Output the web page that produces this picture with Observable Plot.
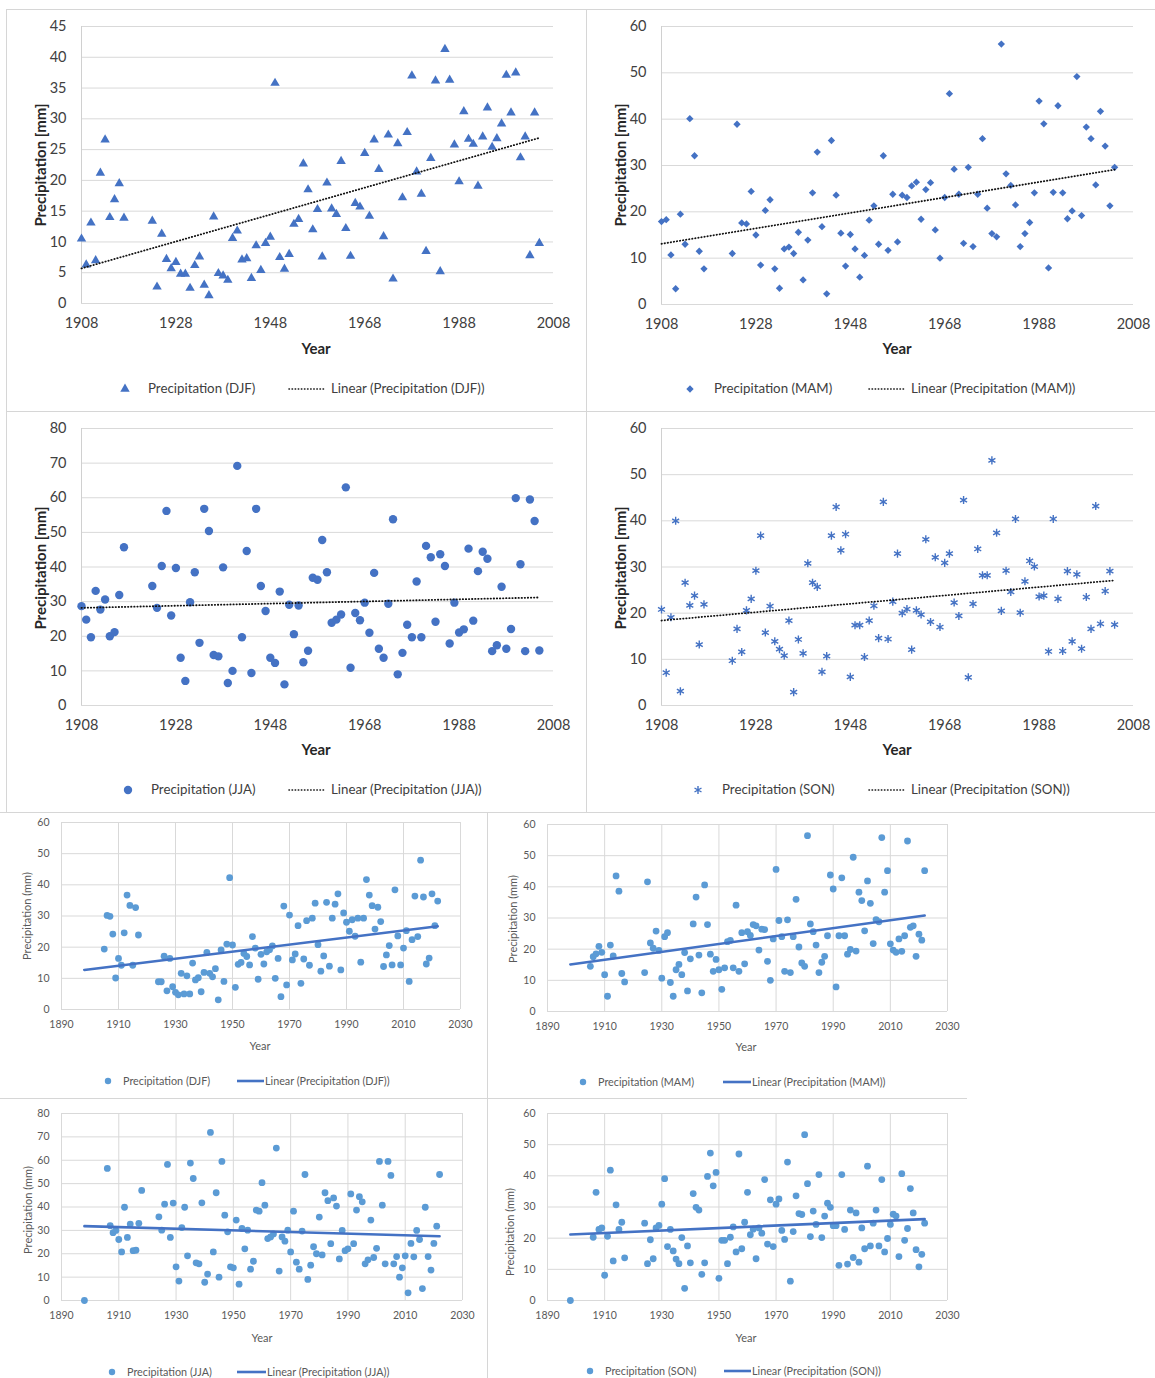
<!DOCTYPE html>
<html><head><meta charset="utf-8">
<script src="https://cdn.jsdelivr.net/npm/d3@7"></script>
<script src="https://cdn.jsdelivr.net/npm/@observablehq/plot@0.6"></script>
<style>
body{margin:0;background:#fff;}
#root{position:relative;width:1155px;height:1378px;overflow:hidden;font-family:Lato,'Open Sans',sans-serif;background:#fff;}
.t{position:absolute;white-space:nowrap;line-height:1;}
.hl{position:absolute;height:1px;background:#d6d6d6;}
.vl{position:absolute;width:1px;background:#d6d6d6;}
</style></head><body><div id="root"></div>
<script>
// ---------- tick labels ----------
const ticksTopX = [1908, 1928, 1948, 1968, 1988, 2008];
const ticksBotX = [1890, 1910, 1930, 1950, 1970, 1990, 2010, 2030];
const ticks45 = [0, 5, 10, 15, 20, 25, 30, 35, 40, 45];
const ticks60 = [0, 10, 20, 30, 40, 50, 60];
const ticks80 = [0, 10, 20, 30, 40, 50, 60, 70, 80];

// ---------- series (year, precipitation mm) ----------
const djfTop = [[1908,10.5],[1909,6.3],[1910,13.1],[1911,7.0],[1912,21.2],[1913,26.6],[1914,14.0],[1915,16.9],[1916,19.5],[1917,13.9],
[1923,13.4],[1924,2.7],[1925,11.3],[1926,7.2],[1927,5.7],[1928,6.7],[1929,4.8],[1930,4.8],[1931,2.5],[1932,6.2],
[1933,7.6],[1934,3.0],[1935,1.3],[1936,14.1],[1937,4.9],[1938,4.5],[1939,3.8],[1940,10.6],[1941,11.8],[1942,7.1],
[1943,7.3],[1944,4.1],[1945,9.4],[1946,5.4],[1947,9.8],[1948,10.8],[1949,35.8],[1950,7.5],[1951,5.6],[1952,8.0],
[1953,12.9],[1954,13.7],[1955,22.7],[1956,18.5],[1957,12.0],[1958,15.3],[1959,7.6],[1960,19.6],[1961,15.4],[1962,14.5],
[1963,23.1],[1964,12.2],[1965,7.7],[1966,16.3],[1967,15.7],[1968,24.4],[1969,14.2],[1970,26.6],[1971,21.8],[1972,10.9],
[1973,27.4],[1974,4.0],[1975,26.0],[1976,17.2],[1977,27.8],[1978,37.0],[1979,21.4],[1980,17.8],[1981,8.5],[1982,23.6],
[1983,36.2],[1984,5.2],[1985,41.3],[1986,36.3],[1987,25.8],[1988,19.8],[1989,31.2],[1990,26.7],[1991,25.9],[1992,19.1],
[1993,27.1],[1994,31.8],[1995,25.4],[1996,26.8],[1997,29.2],[1998,37.1],[1999,31.0],[2000,37.5],[2001,23.7],[2002,27.1],
[2003,7.8],[2004,31.0],[2005,9.8]];

const mamTop = [[1908,17.9],[1909,18.3],[1910,10.7],[1911,3.4],[1912,19.5],[1913,13.0],[1914,40.1],[1915,32.1],[1916,11.5],[1917,7.7],
[1923,11.0],[1924,38.9],[1925,17.6],[1926,17.4],[1927,24.4],[1928,15.0],[1929,8.5],[1930,20.3],[1931,22.6],[1932,7.7],
[1933,3.5],[1934,12.0],[1935,12.4],[1936,11.0],[1937,15.6],[1938,5.3],[1939,13.9],[1940,24.1],[1941,32.9],[1942,16.8],
[1943,2.3],[1944,35.4],[1945,23.6],[1946,15.4],[1947,8.3],[1948,15.1],[1949,12.0],[1950,5.9],[1951,10.6],[1952,18.2],
[1953,21.3],[1954,13.0],[1955,32.1],[1956,11.7],[1957,23.8],[1958,13.5],[1959,23.6],[1960,23.1],[1961,25.6],[1962,26.4],
[1963,18.4],[1964,24.8],[1965,26.3],[1966,16.1],[1967,10.0],[1968,23.1],[1969,45.5],[1970,29.2],[1971,23.8],[1972,13.2],
[1973,29.6],[1974,12.5],[1975,23.8],[1976,35.8],[1977,20.8],[1978,15.3],[1979,14.6],[1980,56.2],[1981,28.2],[1982,25.7],
[1983,21.5],[1984,12.5],[1985,15.3],[1986,17.7],[1987,24.1],[1988,43.9],[1989,39.0],[1990,7.9],[1991,24.2],[1992,42.9],
[1993,24.1],[1994,18.5],[1995,20.2],[1996,49.2],[1997,19.2],[1998,38.3],[1999,35.8],[2000,25.8],[2001,41.7],[2002,34.2],
[2003,21.3],[2004,29.6]];

const jjaTop = [[1908,28.7],[1909,24.8],[1910,19.7],[1911,33.1],[1912,27.7],[1913,30.6],[1914,20.0],[1915,21.2],[1916,31.9],[1917,45.7],
[1923,34.5],[1924,28.2],[1925,40.3],[1926,56.2],[1927,26.0],[1928,39.7],[1929,13.8],[1930,7.1],[1931,29.8],[1932,38.5],
[1933,18.1],[1934,56.8],[1935,50.4],[1936,14.6],[1937,14.2],[1938,39.9],[1939,6.5],[1940,10.0],[1941,69.2],[1942,19.7],
[1943,44.6],[1944,9.4],[1945,56.8],[1946,34.5],[1947,27.3],[1948,13.8],[1949,12.3],[1950,32.9],[1951,6.1],[1952,29.1],
[1953,20.6],[1954,28.9],[1955,12.5],[1956,15.8],[1957,36.9],[1958,36.3],[1959,47.8],[1960,38.5],[1961,23.9],[1962,24.8],
[1963,26.3],[1964,63.0],[1965,10.9],[1966,26.7],[1967,24.6],[1968,29.7],[1969,21.0],[1970,38.3],[1971,16.4],[1972,13.8],
[1973,29.4],[1974,53.8],[1975,9.0],[1976,15.2],[1977,23.3],[1978,19.7],[1979,35.8],[1980,19.7],[1981,46.1],[1982,42.8],
[1983,24.2],[1984,43.7],[1985,40.3],[1986,17.9],[1987,29.7],[1988,21.1],[1989,22.0],[1990,45.3],[1991,24.5],[1992,38.8],
[1993,44.4],[1994,42.4],[1995,15.7],[1996,17.4],[1997,34.3],[1998,16.4],[1999,22.1],[2000,59.9],[2001,40.8],[2002,15.7],
[2003,59.5],[2004,53.3],[2005,15.9]];

const sonTop = [[1908,20.8],[1909,7.1],[1910,19.1],[1911,40.0],[1912,3.1],[1913,26.6],[1914,21.7],[1915,23.8],[1916,13.2],[1917,21.9],
[1923,9.7],[1924,16.6],[1925,11.6],[1926,20.6],[1927,23.1],[1928,29.2],[1929,36.8],[1930,15.8],[1931,21.5],[1932,13.9],
[1933,12.2],[1934,10.8],[1935,18.4],[1936,2.9],[1937,14.3],[1938,11.3],[1939,30.8],[1940,26.6],[1941,25.7],[1942,7.3],
[1943,10.7],[1944,36.8],[1945,43.0],[1946,33.6],[1947,37.1],[1948,6.2],[1949,17.4],[1950,17.4],[1951,10.5],[1952,18.4],
[1953,21.6],[1954,14.6],[1955,44.1],[1956,14.4],[1957,22.5],[1958,32.9],[1959,20.0],[1960,20.9],[1961,12.1],[1962,20.6],
[1963,19.7],[1964,36.0],[1965,18.1],[1966,32.1],[1967,17.0],[1968,30.9],[1969,32.9],[1970,22.3],[1971,19.4],[1972,44.5],
[1973,6.1],[1974,22.0],[1975,33.9],[1976,28.2],[1977,28.2],[1978,53.1],[1979,37.4],[1980,20.5],[1981,29.2],[1982,24.6],
[1983,40.4],[1984,20.1],[1985,26.9],[1986,31.3],[1987,30.1],[1988,23.6],[1989,23.8],[1990,11.7],[1991,40.4],[1992,23.1],
[1993,11.8],[1994,29.1],[1995,13.9],[1996,28.4],[1997,12.3],[1998,23.5],[1999,16.6],[2000,43.2],[2001,17.7],[2002,24.8],
[2003,29.1],[2004,17.5]];

const djfBot = [[1905,19.4],[1906,30.2],[1907,29.9],[1908,24.2],[1909,10.1],[1910,16.4],[1911,14.2],[1912,24.6],[1913,36.7],[1914,33.4],[1915,14.2],[1916,32.7],[1917,23.9],
[1924,8.9],[1925,8.9],[1926,17.1],[1927,6.0],[1928,16.4],[1929,7.3],[1930,5.5],[1931,4.7],[1932,11.6],[1933,5.0],[1934,10.8],[1935,5.0],[1936,14.9],[1937,9.5],[1938,10.2],[1939,5.7],[1940,11.9],[1941,18.3],[1942,11.6],[1943,10.5],[1944,13.1],[1945,3.1],[1946,19.1],[1947,9.0],[1948,21.0],[1949,42.3],[1950,20.7],[1951,7.1],[1952,14.5],[1953,15.1],[1954,18.0],[1955,17.0],[1956,14.3],[1957,23.4],[1958,19.7],[1959,9.7],[1960,17.7],[1961,14.6],[1962,18.5],[1963,19.2],[1964,20.4],[1965,10.0],[1966,16.4],[1967,4.1],[1968,33.2],[1969,7.9],[1970,30.3],[1971,15.9],[1972,17.8],[1973,26.9],[1974,8.4],[1975,16.2],[1976,28.5],[1977,14.2],[1978,29.3],[1979,34.1],[1980,20.8],[1981,12.3],[1982,17.2],[1983,34.4],[1984,13.9],[1985,29.3],[1986,33.8],[1987,37.1],[1988,12.7],[1989,31.0],[1990,28.0],[1991,25.1],[1992,28.8],[1993,23.5],[1994,29.3],[1995,15.2],[1996,29.3],[1997,41.7],[1998,36.7],[1999,33.3],[2000,25.8],[2001,32.8],[2002,28.2],[2003,13.8],[2004,17.5],[2005,20.5],[2006,14.3],[2007,38.4],[2008,23.6],[2009,14.3],[2010,19.7],[2011,25.3],[2012,9.0],[2013,22.4],[2014,36.4],[2015,23.4],[2016,47.9],[2017,36.1],[2018,14.6],[2019,16.5],[2020,37.1],[2021,26.9],[2022,34.8]];

const mamBot = [[1905,14.5],[1906,17.6],[1907,18.5],[1908,20.9],[1909,19.0],[1910,11.8],[1911,4.9],[1912,21.3],[1913,17.8],[1914,43.5],[1915,38.6],[1916,12.2],[1917,9.5],
[1924,12.5],[1925,41.6],[1926,22.0],[1927,20.3],[1928,25.8],[1929,19.6],[1930,10.7],[1931,24.0],[1932,25.3],[1933,9.3],[1934,4.9],[1935,13.4],[1936,15.1],[1937,11.8],[1938,18.9],[1939,6.6],[1940,16.9],[1941,28.1],[1942,36.7],[1943,18.1],[1944,6.0],[1945,40.6],[1946,27.9],[1947,18.4],[1948,12.9],[1949,16.7],[1950,13.4],[1951,7.1],[1952,14.0],[1953,22.4],[1954,22.8],[1955,14.0],[1956,34.1],[1957,12.9],[1958,25.3],[1959,15.3],[1960,25.6],[1961,24.4],[1962,27.9],[1963,27.5],[1964,19.7],[1965,26.4],[1966,26.3],[1967,16.1],[1968,10.0],[1969,23.3],[1970,45.6],[1971,29.2],[1972,24.0],[1973,12.9],[1974,29.4],[1975,12.5],[1976,24.0],[1977,36.0],[1978,20.7],[1979,15.6],[1980,14.5],[1981,56.4],[1982,28.1],[1983,25.6],[1984,21.3],[1985,12.5],[1986,15.8],[1987,17.7],[1988,24.3],[1989,43.8],[1990,39.3],[1991,7.9],[1992,24.3],[1993,42.9],[1994,24.3],[1995,18.4],[1996,19.9],[1997,49.5],[1998,19.4],[1999,38.3],[2000,35.6],[2001,25.9],[2002,41.9],[2003,34.7],[2004,21.8],[2005,29.5],[2006,28.8],[2007,55.8],[2008,38.3],[2009,45.2],[2010,21.7],[2011,19.7],[2012,19.0],[2013,23.3],[2014,19.3],[2015,24.3],[2016,54.7],[2017,27.0],[2018,27.5],[2019,17.7],[2020,24.8],[2021,22.9],[2022,45.2]];

const jjaBot = [[1898,0],[1906,56.5],[1907,32.0],[1908,29.0],[1909,30.0],[1910,26.1],[1911,20.8],[1912,39.9],[1913,27.0],[1914,32.7],[1915,21.3],[1916,21.5],[1917,33.0],[1918,47.1],
[1924,35.8],[1925,30.1],[1926,41.2],[1927,58.2],[1928,27.0],[1929,41.7],[1930,14.4],[1931,8.3],[1932,31.2],[1933,39.9],[1934,19.1],[1935,58.8],[1936,52.2],[1937,16.1],[1938,15.7],[1939,41.8],[1940,7.8],[1941,11.3],[1942,71.9],[1943,20.8],[1944,46.1],[1945,10.0],[1946,59.5],[1947,36.5],[1948,29.4],[1949,14.4],[1950,14.0],[1951,34.4],[1952,7.0],[1953,30.8],[1954,22.1],[1955,30.1],[1956,13.4],[1957,16.8],[1958,38.7],[1959,38.2],[1960,50.4],[1961,40.8],[1962,26.5],[1963,27.2],[1964,28.5],[1965,65.2],[1966,12.6],[1967,27.2],[1968,25.4],[1969,30.1],[1970,20.8],[1971,38.2],[1972,16.4],[1973,13.4],[1974,29.7],[1975,53.9],[1976,9.0],[1977,15.1],[1978,23.0],[1979,20.0],[1980,35.7],[1981,19.5],[1982,46.1],[1983,42.7],[1984,24.3],[1985,43.9],[1986,40.4],[1987,17.8],[1988,30.0],[1989,21.3],[1990,22.1],[1991,45.6],[1992,24.3],[1993,38.7],[1994,44.4],[1995,42.2],[1996,15.7],[1997,17.4],[1998,34.4],[1999,18.4],[2000,22.3],[2001,59.5],[2002,40.8],[2003,15.7],[2004,59.5],[2005,53.5],[2006,15.7],[2007,18.8],[2008,10.0],[2009,14.0],[2010,19.1],[2011,3.3],[2012,24.4],[2013,18.7],[2014,30.0],[2015,26.1],[2016,5.1],[2017,39.9],[2018,18.8],[2019,13.0],[2020,24.4],[2021,31.8],[2022,53.9]];

const sonBot = [[1898,0],[1906,20.3],[1907,34.7],[1908,22.8],[1909,23.3],[1910,8.1],[1911,20.6],[1912,41.8],[1913,12.7],[1914,30.7],[1915,22.8],[1916,25.1],[1917,13.7],
[1924,24.8],[1925,11.8],[1926,19.5],[1927,13.4],[1928,23.3],[1929,24.1],[1930,30.9],[1931,39.1],[1932,17.3],[1933,22.8],[1934,15.9],[1935,13.3],[1936,11.8],[1937,20.2],[1938,3.9],[1939,17.5],[1940,12.1],[1941,34.3],[1942,29.9],[1943,29.0],[1944,8.4],[1945,12.1],[1946,39.8],[1947,47.3],[1948,36.8],[1949,41.1],[1950,7.1],[1951,19.3],[1952,19.3],[1953,11.8],[1954,20.3],[1955,23.6],[1956,15.6],[1957,47.0],[1958,16.6],[1959,25.1],[1960,34.7],[1961,21.1],[1962,22.9],[1963,13.4],[1964,23.3],[1965,21.6],[1966,38.8],[1967,18.1],[1968,32.3],[1969,17.3],[1970,30.9],[1971,32.6],[1972,22.5],[1973,19.6],[1974,44.4],[1975,6.2],[1976,22.1],[1977,33.6],[1978,27.9],[1979,27.6],[1980,53.2],[1981,37.5],[1982,20.5],[1983,28.7],[1984,24.4],[1985,40.4],[1986,20.2],[1987,27.1],[1988,31.2],[1989,29.9],[1990,24.0],[1991,24.0],[1992,11.3],[1993,40.4],[1994,22.8],[1995,11.7],[1996,29.0],[1997,13.8],[1998,28.1],[1999,12.3],[2000,23.3],[2001,16.6],[2002,43.1],[2003,17.5],[2004,24.8],[2005,29.0],[2006,17.5],[2007,38.8],[2008,15.6],[2009,19.9],[2010,24.4],[2011,27.7],[2012,27.1],[2013,14.1],[2014,40.7],[2015,19.3],[2016,23.1],[2017,35.9],[2018,28.1],[2019,16.3],[2020,10.8],[2021,14.8],[2022,24.8]];

// ---------- linear trend end points ----------
const trendDjfTop = [[1908, 5.7], [2005, 26.9]];
const trendMamTop = [[1908, 13.1], [2004, 29.1]];
const trendJjaTop = [[1908, 28.2], [2005, 31.2]];
const trendSonTop = [[1908, 18.4], [2004, 27.1]];
const trendDjfBot = [[1898, 12.7], [2022, 26.7]];
const trendMamBot = [[1898, 15.1], [2022, 30.8]];
const trendJjaBot = [[1898, 31.8], [2022, 27.5]];
const trendSonBot = [[1898, 21.2], [2022, 26.1]];

const seasons = ["DJF", "MAM", "JJA", "SON"];

// ---------- helpers ----------
const root = document.getElementById("root");
const FONT = "Lato, 'Open Sans', sans-serif";
const TOPBLUE = "#4472C4", BOTDOT = "#5B9BD5", BOTLINE = "#4472C4";
const DOTTED = "0.4,2.7";
const SYM = {triangle: d3.symbolTriangle, diamond2: d3.symbolDiamond2, circle: d3.symbolCircle, asterisk: d3.symbolAsterisk};

function place(el, left, top) {
  el.style.position = "absolute"; el.style.left = left + "px"; el.style.top = top + "px";
  root.appendChild(el);
}
function txt(str, x, y, o = {}) {
  const d = document.createElement("div");
  d.className = "t";
  d.textContent = str;
  d.style.fontSize = (o.size || 14) + "px";
  d.style.fontWeight = o.weight || 400;
  d.style.color = o.color || "#404040";
  d.style.fontFamily = FONT;
  d.style.left = x + "px"; d.style.top = y + "px";
  let tr = o.align === "left" ? "translate(0,-50%)" : "translate(-50%,-50%)";
  if (o.rotate) tr += " rotate(-90deg)";
  d.style.transform = tr;
  root.appendChild(d);
}
function line(cls, x, y, len) {
  const d = document.createElement("div");
  d.className = cls;
  d.style.left = x + "px"; d.style.top = y + "px";
  if (cls === "hl") d.style.width = len + "px"; else d.style.height = len + "px";
  root.appendChild(d);
}
function swatchSym(cx, cy, sym, r, color) {
  const ns = "http://www.w3.org/2000/svg";
  const s = document.createElementNS(ns, "svg");
  s.setAttribute("width", 20); s.setAttribute("height", 20);
  s.style.position = "absolute"; s.style.left = (cx - 10) + "px"; s.style.top = (cy - 10) + "px";
  const p = document.createElementNS(ns, "path");
  p.setAttribute("d", d3.symbol(SYM[sym], Math.PI * r * r)());
  p.setAttribute("transform", "translate(10,10)");
  if (sym === "asterisk") { p.setAttribute("fill", "none"); p.setAttribute("stroke", color); p.setAttribute("stroke-width", 1.4); }
  else p.setAttribute("fill", color);
  s.appendChild(p);
  root.appendChild(s);
}
function swatchLine(x1, x2, cy, color, width, dash) {
  const ns = "http://www.w3.org/2000/svg";
  const s = document.createElementNS(ns, "svg");
  s.setAttribute("width", x2 - x1); s.setAttribute("height", 8);
  s.style.position = "absolute"; s.style.left = x1 + "px"; s.style.top = (cy - 4) + "px";
  const l = document.createElementNS(ns, "line");
  l.setAttribute("x1", 1); l.setAttribute("x2", x2 - x1 - 1); l.setAttribute("y1", 4); l.setAttribute("y2", 4);
  l.setAttribute("stroke", color); l.setAttribute("stroke-width", width);
  if (dash) { l.setAttribute("stroke-dasharray", dash); l.setAttribute("stroke-linecap", "round"); }
  s.appendChild(l);
  root.appendChild(s);
}

function chart(c) {
  const marks = [];
  if (c.gridX) marks.push(Plot.gridX(c.xTicks, {stroke: "#d9d9d9", strokeOpacity: 1}));
  marks.push(Plot.gridY(c.yTicks, {stroke: "#d9d9d9", strokeOpacity: 1}));
  if (!c.gridX) marks.push(Plot.ruleX([c.xTicks[0]], {stroke: "#d0d0d0"}));
  marks.push(Plot.axisX({ticks: c.xTicks, tickSize: 0, tickPadding: c.padX, tickFormat: d => String(d), label: null}));
  marks.push(Plot.axisY({ticks: c.yTicks, tickSize: 0, tickPadding: c.padY, tickFormat: d => String(d), label: null}));
  const dotOpts = {x: d => d[0], y: d => d[1], symbol: c.symbol, r: c.r};
  if (c.symbol === "asterisk") { dotOpts.stroke = c.color; dotOpts.strokeWidth = 1.4; dotOpts.fill = "none"; }
  else { dotOpts.fill = c.color; dotOpts.stroke = "none"; }
  marks.push(Plot.dot(c.data, dotOpts));
  const lineOpts = {x: d => d[0], y: d => d[1], stroke: c.lineColor, strokeWidth: c.lineWidth};
  if (c.dash) { lineOpts.strokeDasharray = c.dash; lineOpts.strokeLinecap = "round"; }
  marks.push(Plot.line(c.trend, lineOpts));
  const svg = Plot.plot({
    width: c.w, height: c.h,
    marginLeft: c.mL, marginRight: c.mR, marginTop: c.mT, marginBottom: c.mB,
    style: {fontFamily: FONT, fontSize: c.fs + "px", color: c.tickColor, background: "transparent", overflow: "visible"},
    x: {domain: [c.xTicks[0], c.xTicks[c.xTicks.length - 1]]},
    y: {domain: [c.yTicks[0], c.yTicks[c.yTicks.length - 1]]},
    marks
  });
  const div = document.createElement("div");
  div.style.width = c.w + "px"; div.style.height = c.h + "px";
  div.appendChild(svg);
  place(div, c.left, c.top);
}

// ---------- panel borders ----------
line("hl", 6, 9, 1149);
line("vl", 6, 9, 803);
line("vl", 586, 9, 803);
line("hl", 6, 411, 1149);
line("hl", 0, 812, 1155);
line("vl", 487, 812, 566);
line("hl", 0, 1098, 967);

// ---------- top four panels ----------
const topCommon = {w: 585, h: 340, xTicks: ticksTopX, fs: 14.5, tickColor: "#404040", padX: 14, padY: 15,
  color: TOPBLUE, lineColor: "#111", lineWidth: 1.8, dash: DOTTED};
chart({...topCommon, left: 0, top: 0, mL: 81, mR: 32, mT: 26, mB: 37, yTicks: ticks45, data: djfTop, trend: trendDjfTop, symbol: "triangle", r: 3.5});
chart({...topCommon, w: 570, left: 585, top: 0, mL: 76, mR: 22, mT: 26, mB: 36, yTicks: ticks60, data: mamTop, trend: trendMamTop, symbol: "diamond2", r: 3.3});
chart({...topCommon, left: 0, top: 400, mL: 81, mR: 32, mT: 28, mB: 35, yTicks: ticks80, data: jjaTop, trend: trendJjaTop, symbol: "circle", r: 4.2});
chart({...topCommon, w: 570, left: 585, top: 400, mL: 76, mR: 22, mT: 28, mB: 35, yTicks: ticks60, data: sonTop, trend: trendSonTop, symbol: "asterisk", r: 3.8});

const topTitle = {size: 15, weight: 700, color: "#262626"};
txt("Precipitation [mm]", 40, 165, {...topTitle, rotate: true});
txt("Precipitation [mm]", 620, 165, {...topTitle, rotate: true});
txt("Precipitation [mm]", 40, 568, {...topTitle, rotate: true});
txt("Precipitation [mm]", 620, 568, {...topTitle, rotate: true});
txt("Year", 316, 348, topTitle);
txt("Year", 897, 348, topTitle);
txt("Year", 316, 749, topTitle);
txt("Year", 897, 749, topTitle);

const topLeg = {size: 13.3, color: "#404040", align: "left"};
const topLegendSpec = [
  {s: seasons[0], y: 389, sx: 125, tx: 148, lx: 288, sym: "triangle", r: 3.5},
  {s: seasons[1], y: 389, sx: 690, tx: 714, lx: 868, sym: "diamond2", r: 3.3},
  {s: seasons[2], y: 790, sx: 128, tx: 151, lx: 288, sym: "circle", r: 4.2},
  {s: seasons[3], y: 790, sx: 698, tx: 722, lx: 868, sym: "asterisk", r: 3.8}
];
for (const L of topLegendSpec) {
  swatchSym(L.sx, L.y, L.sym, L.r, TOPBLUE);
  txt(`Precipitation (${L.s})`, L.tx, L.y, topLeg);
  swatchLine(L.lx, L.lx + 38, L.y, "#111", 1.6, DOTTED);
  txt(`Linear (Precipitation (${L.s}))`, L.lx + 43, L.y, topLeg);
}

// ---------- bottom four panels ----------
const botCommon = {xTicks: ticksBotX, fs: 10.5, tickColor: "#595959", padX: 11, padY: 12, gridX: true,
  color: BOTDOT, lineColor: BOTLINE, lineWidth: 2.6, symbol: "circle", r: 3.4, h: 220};
chart({...botCommon, w: 487, left: 0, top: 812, mL: 61, mR: 27, mT: 10, mB: 23, yTicks: ticks60, data: djfBot, trend: trendDjfBot});
chart({...botCommon, w: 480, left: 487, top: 812, mL: 60, mR: 20, mT: 12, mB: 21, yTicks: ticks60, data: mamBot, trend: trendMamBot});
chart({...botCommon, w: 487, left: 0, top: 1100, mL: 61, mR: 25, mT: 13, mB: 20, yTicks: ticks80, data: jjaBot, trend: trendJjaBot});
chart({...botCommon, w: 480, left: 487, top: 1100, mL: 60, mR: 20, mT: 13, mB: 20, yTicks: ticks60, data: sonBot, trend: trendSonBot});

const botTitle = {size: 11, color: "#595959"};
txt("Precipitation (mm)", 26, 916, {...botTitle, rotate: true});
txt("Precipitation (mm)", 512, 919, {...botTitle, rotate: true});
txt("Precipitation (mm)", 27, 1210, {...botTitle, rotate: true});
txt("Precipitation (mm)", 509, 1232, {...botTitle, rotate: true});
txt("Year", 260, 1045, botTitle);
txt("Year", 746, 1046, botTitle);
txt("Year", 262, 1337, botTitle);
txt("Year", 746, 1337, botTitle);

const botLeg = {size: 10.8, color: "#595959", align: "left"};
const botLegendSpec = [
  {s: seasons[0], y: 1081, dx: 108, tx: 123, l1: 236, l2: 265},
  {s: seasons[1], y: 1082, dx: 583, tx: 598, l1: 722, l2: 752},
  {s: seasons[2], y: 1372, dx: 112, tx: 127, l1: 236, l2: 267},
  {s: seasons[3], y: 1371, dx: 590, tx: 605, l1: 723, l2: 752}
];
for (const L of botLegendSpec) {
  swatchSym(L.dx, L.y, "circle", 3.2, BOTDOT);
  txt(`Precipitation (${L.s})`, L.tx, L.y, botLeg);
  swatchLine(L.l1, L.l2, L.y, BOTLINE, 2.6);
  txt(`Linear (Precipitation (${L.s}))`, L.l2, L.y, botLeg);
}
</script></body></html>
